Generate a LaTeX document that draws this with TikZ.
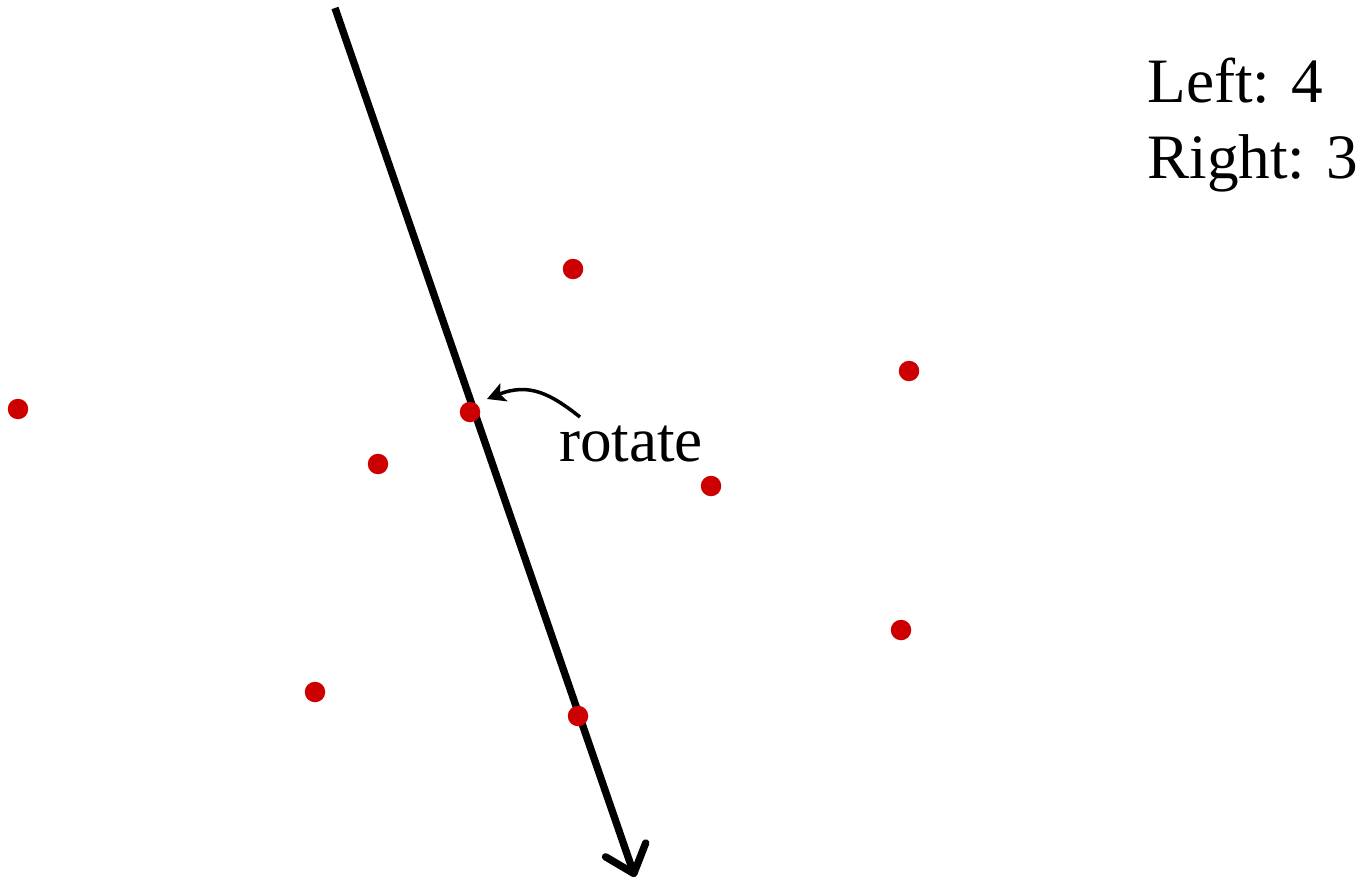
\documentclass[tikz,border=0pt]{standalone}
\usepackage{fontspec}
\setmainfont{Liberation Serif}
\usetikzlibrary{arrows.meta}

\definecolor{ptred}{RGB}{204,0,0}
\tikzset{
  pt/.style={circle,fill=ptred,inner sep=0pt,minimum size=0.41cm},
  lbl/.style={font=\fontsize{36}{43}\selectfont,inner sep=0pt}
}

\begin{document}
\begin{tikzpicture}[x=0.02cm,y=-0.02cm]
    \useasboundingbox (0,0) rectangle (1362,882);
    % the directed line
    \coordinate (top) at (335,8);
    \coordinate (tip) at (635,877);
    \draw[line width=4.2pt,-{Straight Barb[length=0.5cm,width=0.85cm,round]}] (top) -- (tip);

    % points
    \node[pt] (p1) at (18,409) {};
    \node[pt] (p2) at (573,269) {};
    \node[pt] (p3) at (909,371) {};
    \node[pt] (p4) at (470,412) {};
    \node[pt] (p5) at (378,464) {};
    \node[pt] (p6) at (711,486) {};
    \node[pt] (p7) at (901,630) {};
    \node[pt] (p8) at (315,692) {};
    \node[pt] (p9) at (578,716) {};

    % rotation label
    \node[lbl,anchor=base] (rot) at (631,461) {rotate};
    \coordinate (rotfrom) at (580,417);
    \coordinate (rotto) at (487,399);
    \draw[line width=2pt,-{Stealth[length=0.36cm,width=0.38cm,inset=0.08cm]}] (rotfrom) .. controls (552,395) and (530,382) .. (rotto);

    \node[lbl,anchor=base west,align=left] (count) at (1147,178) {Left: 4\\Right: 3};
  \end{tikzpicture}
\end{document}
